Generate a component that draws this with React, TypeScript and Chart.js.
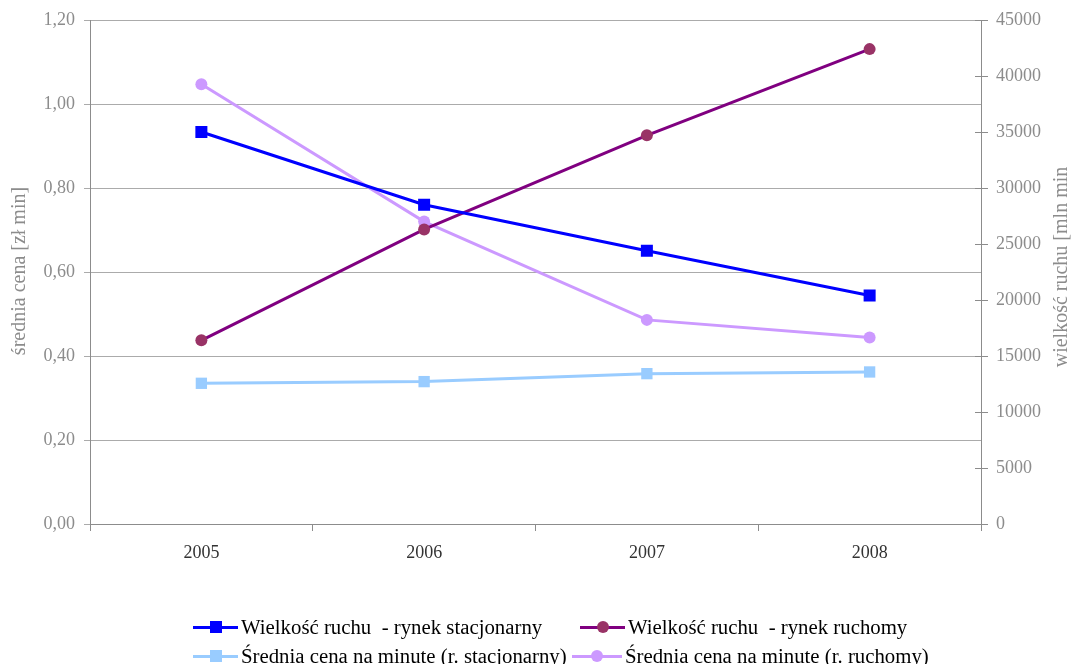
import React, { useEffect, useRef } from 'react';
import { Chart, registerables } from 'chart.js';

Chart.register(...registerables);

const years = ['2005', '2006', '2007', '2008'];
const ruchStacjonarny = [35000, 28500, 24400, 20400];
const ruchRuchomy = [16400, 26300, 34700, 42400];
const cenaStacjonarny = [0.335, 0.339, 0.358, 0.362];
const cenaRuchomy = [1.047, 0.72, 0.486, 0.444];

const seriesLabels = [
  'Wielkość ruchu  - rynek stacjonarny',
  'Wielkość ruchu  - rynek ruchomy',
  'Średnia cena na minute (r. stacjonarny)',
  'Średnia cena na minute (r. ruchomy)',
];
const leftTitle = 'średnia cena [zł min]';
const rightTitle = 'wielkość ruchu [mln min';

const FONT = "'Liberation Serif', 'Times New Roman', serif";
const GRAY = '#8c8c8c';
const GRID = '#ababab';

const seriesStyle = [
  { line: '#0000ff', marker: '#0000ff', shape: 'rect' as const, r: 8.5 },
  { line: '#800080', marker: '#993366', shape: 'circle' as const, r: 6 },
  { line: '#99ccff', marker: '#99ccff', shape: 'rect' as const, r: 8 },
  { line: '#cc99ff', marker: '#cc99ff', shape: 'circle' as const, r: 6 },
];

const legendPos = [
  { x: 193, y: 627, w: 45 },
  { x: 580, y: 627, w: 45 },
  { x: 193, y: 656, w: 45 },
  { x: 572, y: 656, w: 50 },
];

const titlesPlugin = {
  id: 'axisTitlesAndTicks',
  afterDraw(chart: any) {
    const { ctx, chartArea } = chart;
    const yR = chart.scales.yR;
    ctx.save();
    ctx.strokeStyle = GRAY;
    ctx.lineWidth = 1;
    yR.ticks.forEach((t: any) => {
      const y = Math.round(yR.getPixelForValue(t.value)) + 0.5;
      ctx.beginPath();
      ctx.moveTo(chartArea.right - 6, y);
      ctx.lineTo(chartArea.right, y);
      ctx.stroke();
    });
    ctx.restore();
    const drawTitle = (text: string, x: number, y: number) => {
      ctx.save();
      ctx.fillStyle = GRAY;
      ctx.font = `20px ${FONT}`;
      ctx.textAlign = 'center';
      ctx.textBaseline = 'middle';
      ctx.translate(x, y);
      ctx.rotate(-Math.PI / 2);
      ctx.fillText(text, 0, 0);
      ctx.restore();
    };
    drawTitle(leftTitle, 20, 271);
    drawTitle(rightTitle, 1062, 267);
  },
};

export default function App() {
  const ref = useRef<HTMLCanvasElement | null>(null);

  useEffect(() => {
    document.body.style.margin = '0';
    const canvas = ref.current;
    if (!canvas) return;
    const data = [ruchStacjonarny, ruchRuchomy, cenaStacjonarny, cenaRuchomy];
    const axes = ['yR', 'yR', 'y', 'y'];
    const chart = new Chart(canvas, {
      type: 'line',
      data: {
        labels: years,
        datasets: data.map((d, i) => ({
          label: seriesLabels[i],
          data: d,
          yAxisID: axes[i],
          borderColor: seriesStyle[i].line,
          backgroundColor: seriesStyle[i].marker,
          pointBackgroundColor: seriesStyle[i].marker,
          pointBorderColor: seriesStyle[i].marker,
          pointStyle: seriesStyle[i].shape,
          pointRadius: seriesStyle[i].r,
          pointBorderWidth: 0,
          borderWidth: 3,
          tension: 0,
          fill: false,
        })),
      },
      options: {
        animation: false,
        responsive: false,
        devicePixelRatio: 1,
        layout: { padding: { top: 20, left: 0, right: 0, bottom: 0 } },
        plugins: {
          legend: { display: false },
          tooltip: { enabled: false },
        },
        scales: {
          x: {
            type: 'category',
            offset: true,
            afterFit: (s: any) => { s.height = 140; },
            grid: {
              offset: true,
              drawOnChartArea: false,
              drawTicks: true,
              tickLength: 7,
              color: GRAY,
            },
            border: { display: true, color: GRAY, width: 1 },
            ticks: {
              color: '#333333',
              font: { family: FONT, size: 18 },
              padding: 11,
            },
          },
          y: {
            position: 'left',
            min: 0,
            max: 1.2,
            afterFit: (s: any) => { s.width = 90; },
            ticks: {
              stepSize: 0.2,
              color: GRAY,
              font: { family: FONT, size: 18 },
              padding: 9,
              callback: (v: any) => Number(v).toFixed(2).replace('.', ','),
            },
            grid: {
              color: GRID,
              lineWidth: 1,
              tickLength: 6,
              drawTicks: true,
            },
            border: { display: true, color: GRAY, width: 1 },
          },
          yR: {
            position: 'right',
            min: 0,
            max: 45000,
            afterFit: (s: any) => { s.width = 93; },
            ticks: {
              stepSize: 5000,
              color: GRAY,
              font: { family: FONT, size: 18 },
              padding: 8,
              callback: (v: any) => String(v),
            },
            grid: {
              drawOnChartArea: false,
              tickLength: 7,
              color: GRAY,
            },
            border: { display: true, color: GRAY, width: 1 },
          },
        },
      },
      plugins: [titlesPlugin],
    });
    return () => chart.destroy();
  }, []);

  return (
    <div style={{ position: 'relative', width: 1074, height: 664, background: '#fff' }}>
      <canvas ref={ref} width={1074} height={664} style={{ display: 'block' }} />
      {seriesLabels.map((label, i) => {
        const p = legendPos[i];
        const st = seriesStyle[i];
        const size = 12;
        return (
          <div
            key={label}
            style={{
              position: 'absolute',
              left: p.x,
              top: p.y - 12,
              height: 24,
              display: 'flex',
              alignItems: 'center',
              whiteSpace: 'pre',
              fontFamily: FONT,
              fontSize: 20.8,
              color: '#000',
            }}
          >
            <div style={{ position: 'relative', width: p.w, height: 24, marginRight: 3, flex: 'none' }}>
              <div style={{ position: 'absolute', left: 0, right: 0, top: 10.5, height: 3, background: st.line }} />
              <div
                style={{
                  position: 'absolute',
                  left: p.w / 2 - size / 2,
                  top: 12 - size / 2,
                  width: size,
                  height: size,
                  background: st.marker,
                  borderRadius: st.shape === 'circle' ? '50%' : 0,
                }}
              />
            </div>
            <span>{label}</span>
          </div>
        );
      })}
    </div>
  );
}
